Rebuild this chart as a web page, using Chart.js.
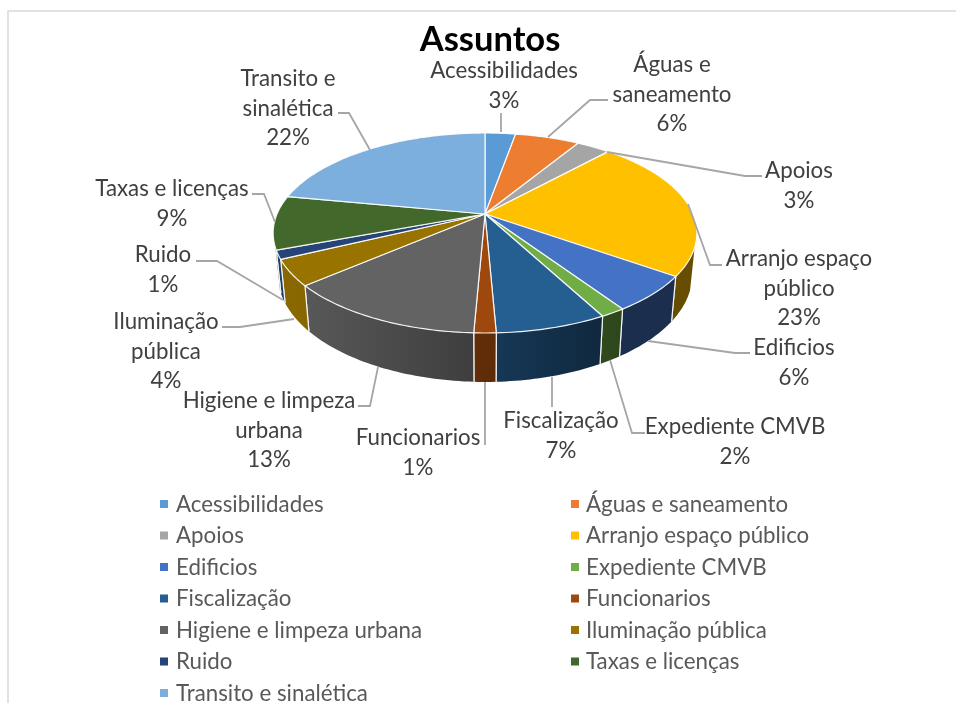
<!DOCTYPE html>
<html><head><meta charset="utf-8">
<style>html,body{margin:0;padding:0;background:#fff}canvas{display:block}</style>
<script src="https://cdn.jsdelivr.net/npm/chart.js@4"></script></head>
<body><canvas id="c" width="956" height="703"></canvas>
<script>
const categories = ["Acessibilidades","Águas e saneamento","Apoios","Arranjo espaço público","Edificios","Expediente CMVB","Fiscalização","Funcionarios","Higiene e limpeza urbana","Iluminação pública","Ruido","Taxas e licenças","Transito e sinalética"];
const values = [2.8,5.9,3.1,23,5.8,1.6,7.1,1.4,13,4.2,1.4,8.7,22];
const colors = ["#5B9BD5","#ED7D31","#A5A5A5","#FFC000","#4472C4","#70AD47","#255E91","#9E480E","#636363","#997300","#264478","#43682B","#7CAFDD"];
const labelLines = [["Acessibilidades"],["Águas e","saneamento"],["Apoios"],["Arranjo espaço","público"],["Edificios"],["Expediente CMVB"],["Fiscalização"],["Funcionarios"],["Higiene e limpeza","urbana"],["Iluminação","pública"],["Ruido"],["Taxas e licenças"],["Transito e","sinalética"]];
const titleText = "Assuntos";

// layout of the callouts: [centre x, first line y]
const labelPos = [[504,71],[672,65],[799,171],[799,259],[794,348],[735,427],[561,421],[418,438],[269,401],[166,322],[163,255],[172,189],[288,79]];
const leaders = [
 [[501,113],[501,132]],
 [[548,137],[590,100],[608,100]],
 [[607,152],[745,176],[762,176]],
 [[688,204],[710,265],[722,265]],
 [[648,341],[735,353],[750,353]],
 [[610,360],[632,433],[645,433]],
 [[552,377],[552,407]],
 [[485,382],[485,445]],
 [[378,367],[370,406],[358,406]],
 [[294,319],[240,327],[222,327]],
 [[283,300],[217,261],[196,261]],
 [[275,222],[264,194],[252,194]],
 [[370,150],[349,113],[338,113]]
];

// projected tilted disc
const AX=485, AY=214, RX=208, RY=96.4, K=0.19;
const WALL_FROM=109*Math.PI/180, WALL_TO=251*Math.PI/180;
function rim(t){ const X=Math.sin(t), Y=-Math.cos(t), w=1-K*Y; return [AX+RX*X/w, AY+RY*Y/w]; }
function low(p){ return [AX+0.978*(p[0]-AX), AY+40.6+1.07*(p[1]-AY)]; }
function rgb(h){ return [1,3,5].map(i=>parseInt(h.substr(i,2),16)); }
function shade(hex,x){
  const f = x<300?0.9 : x>620?0.4 : 0.9-(x-300)/320*0.5;
  const c = rgb(hex).map(v=>Math.round(v*f));
  return `rgb(${c[0]},${c[1]},${c[2]})`;
}
function sweep(a,b){
  const pts=[], n=Math.max(4,Math.ceil((b-a)/0.02));
  for(let i=0;i<=n;i++) pts.push(rim(a+(b-a)*i/n));
  return pts;
}
const TXT="#404040", FONT="Lato, Carlito, sans-serif";

const disc3d = {
  id:"disc3d",
  beforeDatasetsDraw(chart){
    const ctx=chart.ctx, arcs=chart.getDatasetMeta(0).data;
    const slices=arcs.map(el=>({a:el.startAngle+Math.PI/2,b:el.endAngle+Math.PI/2,color:el.options.backgroundColor}));
    ctx.save();
    ctx.lineJoin="round";
    // side wall
    slices.forEach(s=>{
      const a=Math.max(s.a,WALL_FROM), b=Math.min(s.b,WALL_TO);
      if(b<=a) return;
      const pts=sweep(a,b), lows=pts.map(low);
      const xs=pts.map(p=>p[0]);
      const x0=Math.min(...xs), x1=Math.max(...xs);
      const g=ctx.createLinearGradient(x0,0,x1+0.01,0);
      g.addColorStop(0,shade(s.color,x0)); g.addColorStop(1,shade(s.color,x1));
      ctx.beginPath();
      pts.forEach((p,i)=>i?ctx.lineTo(p[0],p[1]):ctx.moveTo(p[0],p[1]));
      lows.slice().reverse().forEach(p=>ctx.lineTo(p[0],p[1]));
      ctx.closePath();
      ctx.fillStyle=g; ctx.fill();
      ctx.strokeStyle="rgba(255,255,255,0.9)"; ctx.lineWidth=1.2;
      ctx.beginPath();
      if(s.a>=WALL_FROM){ const p=pts[0], l=low(p); ctx.moveTo(p[0],p[1]); ctx.lineTo(l[0],l[1]); }
      if(s.b<=WALL_TO){ const p=pts[pts.length-1], l=low(p); ctx.moveTo(p[0],p[1]); ctx.lineTo(l[0],l[1]); }
      ctx.stroke();
    });
    // top face
    slices.forEach(s=>{
      const pts=sweep(s.a,s.b);
      ctx.beginPath(); ctx.moveTo(AX,AY);
      pts.forEach(p=>ctx.lineTo(p[0],p[1]));
      ctx.closePath();
      ctx.fillStyle=s.color; ctx.fill();
      ctx.strokeStyle="rgba(255,255,255,0.9)"; ctx.lineWidth=1.2; ctx.stroke();
    });
    ctx.restore();
    return false;
  },
  afterDraw(chart){
    const ctx=chart.ctx, total=values.reduce((a,b)=>a+b,0);
    ctx.save();
    // chart frame
    ctx.strokeStyle="#d9d9d9"; ctx.lineWidth=1.5;
    ctx.beginPath(); ctx.moveTo(8,703); ctx.lineTo(8,11); ctx.lineTo(956,11); ctx.stroke();
    // leader lines
    ctx.strokeStyle="#a6a6a6"; ctx.lineWidth=1.8;
    leaders.forEach(L=>{ ctx.beginPath(); L.forEach((p,i)=>i?ctx.lineTo(p[0],p[1]):ctx.moveTo(p[0],p[1])); ctx.stroke(); });
    // callouts
    ctx.fillStyle=TXT; ctx.font="22.3px "+FONT; ctx.textAlign="center"; ctx.textBaseline="middle";
    categories.forEach((c,i)=>{
      const lines=[...labelLines[i], Math.round(values[i]/total*100)+"%"];
      lines.forEach((t,j)=>ctx.fillText(t,labelPos[i][0],labelPos[i][1]+j*29.5));
    });
    // legend
    ctx.textAlign="left";
    const rows=[504.5,536,567.5,599,630.5,662,693.5];
    categories.forEach((c,i)=>{
      const col=i%2, y=rows[Math.floor(i/2)];
      const mx=col?571:160, tx=col?586:176;
      ctx.fillStyle=colors[i]; ctx.fillRect(mx,y-4.5,8,8);
      ctx.fillStyle="#595959"; ctx.fillText(c,tx,y);
    });
    ctx.restore();
  }
};

new Chart(document.getElementById("c"),{
  type:"pie",
  data:{labels:categories,datasets:[{data:values,backgroundColor:colors,borderColor:"#fff",borderWidth:1}]},
  plugins:[disc3d],
  options:{
    responsive:false,animation:false,
    layout:{padding:{left:24,top:0}},
    plugins:{
      legend:{display:false},tooltip:{enabled:false},
      title:{display:true,text:titleText,color:"#000",fullSize:false,font:{family:FONT,size:34.5,weight:"bold"},padding:{top:19,bottom:10}}
    }
  }
});
</script></body></html>
